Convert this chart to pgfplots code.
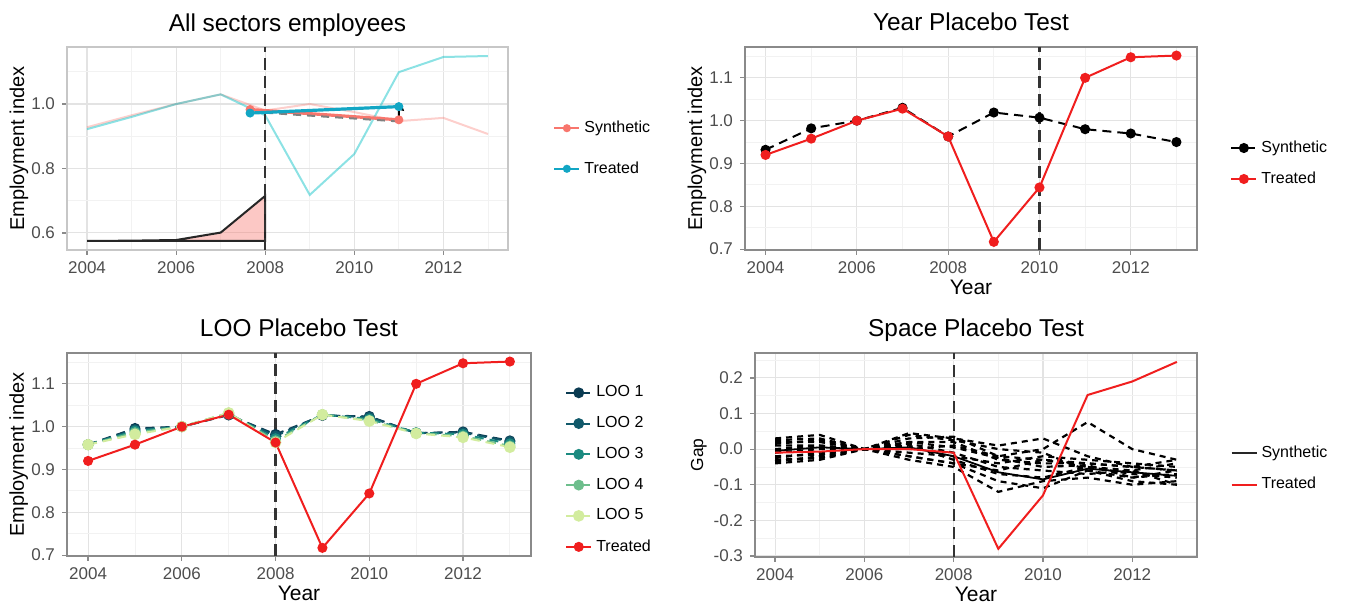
\documentclass[border=0pt]{standalone}
\usepackage{fontspec}
\setmainfont{Liberation Sans}
\usepackage{pgfplots}
\pgfplotsset{compat=1.18}
\usetikzlibrary{arrows.meta}
\definecolor{salmon}{HTML}{F8766D}
\definecolor{tealL}{HTML}{00BFC4}
\definecolor{tealD}{HTML}{12A6C4}
\definecolor{redp}{HTML}{F01E1E}
\definecolor{loo1}{HTML}{0B3B52}
\definecolor{loo2}{HTML}{11596A}
\definecolor{loo3}{HTML}{1B8A80}
\definecolor{loo4}{HTML}{6DBE8C}
\definecolor{loo5}{HTML}{D2EC9E}
\definecolor{tickgray}{HTML}{4D4D4D}
\definecolor{framegray}{HTML}{8A8A8A}
\pgfplotsset{
  ggp/.style={
    scale only axis,
    axis line style={framegray, line width=0.7pt},
    tick align=outside,
    tick pos=left,
    major tick length=2.5pt,
    minor tick length=0pt,
    every tick/.style={framegray, line width=0.6pt},
    grid=both,
    major grid style={color=black!11, line width=0.55pt},
    minor grid style={color=black!5, line width=0.4pt},
    tick label style={font=\fontsize{8.5}{10}\selectfont, text=tickgray},
    /pgf/number format/assume math mode=true,
    every axis title/.style={font=\fontsize{12.2}{14}\selectfont, at={(0.5,1)}, anchor=base, yshift=8pt},
    xlabel style={font=\fontsize{10.5}{12}\selectfont, at={(0.5,0)}, anchor=base, yshift=-22.5pt},
    ylabel style={font=\fontsize{10}{12}\selectfont, rotate=0},
    legend style={draw=none, fill=none, font=\fontsize{8}{9.6}\selectfont, anchor=west, inner sep=0pt, cells={anchor=west}},
    legend image code/.code={\draw[mark repeat=2,mark phase=2,#1] plot coordinates {(0cm,0cm) (0.22cm,0cm) (0.44cm,0cm)};},
    xmin=2003.55, xmax=2013.45,
    xtick={2004,2006,...,2012}, minor xtick={2005,2007,...,2013},
    x tick label style={/pgf/number format/set thousands separator={}},
    y tick label style={/pgf/number format/fixed, /pgf/number format/fixed zerofill, /pgf/number format/precision=1},
  },
  vline/.style={black!80, line width=1.1pt, dash pattern=on 6pt off 3pt, forget plot},
}
\begin{document}
\begin{tikzpicture}
\useasboundingbox (0,0) rectangle (674.5pt,302.5pt);

% ---------------- Panel 1 ----------------
\begin{axis}[ggp, at={(33.5pt,177.5pt)}, anchor=south west, width=220.5pt, height=101.5pt,
  axis line style={black!22, line width=0.7pt},
  ymin=0.547, ymax=1.177,
  ytick={0.6,0.8,1.0}, minor ytick={0.7,0.9,1.1},
  title={All sectors employees},
  ylabel={Employment index},
  every axis y label/.style={at={(axis description cs:-0.0975,0.5)}, rotate=90, anchor=base},
  legend style={at={(axis description cs:1.102,0.5)}, row sep=9pt}]
\addplot[salmon, opacity=0.35, line width=1pt, forget plot] coordinates {
(2004,0.928)(2005,0.965)(2006,1.0)(2007,1.03)(2008,0.98)(2009,1.0)(2010,0.975)(2011,0.947)(2012,0.957)(2013,0.907)};
\addplot[tealL, opacity=0.45, line width=1pt, forget plot] coordinates {
(2004,0.922)(2005,0.96)(2006,1.0)(2007,1.03)(2008,0.965)(2009,0.718)(2010,0.845)(2011,1.099)(2012,1.146)(2013,1.149)};
\addplot[draw=black!85, line width=1pt, fill=salmon, fill opacity=0.4, forget plot] coordinates {
(2004,0.575)(2005,0.576)(2006,0.578)(2007,0.601)(2008,0.715)(2008,0.575)(2004,0.575)} -- cycle;
\addplot[vline] coordinates {(2008,0.547)(2008,1.177)};
\addplot[salmon, line width=1.6pt, mark=*, mark size=1.4pt, forget plot] coordinates {(2007.66,0.983)(2011,0.951)};
\addplot[gray, line width=1pt, dash pattern=on 4pt off 3pt, forget plot] coordinates {(2008,0.973)(2011,0.946)};
\addplot[tealD, line width=1.6pt, mark=*, mark size=1.4pt, forget plot] coordinates {(2007.66,0.972)(2011,0.992)};
\addplot[black, line width=1pt, -{Stealth[length=3.5pt,width=3.5pt]}, forget plot] coordinates {(2011,0.948)(2011,0.993)(2011.12,0.978)};
\addlegendimage{salmon, line width=1pt, mark=*, mark size=1.5pt}
\addlegendentry{Synthetic}
\addlegendimage{tealD, line width=1pt, mark=*, mark size=1.5pt}
\addlegendentry{Treated}
\end{axis}

% ---------------- Panel 2 ----------------
\begin{axis}[ggp, at={(372.5pt,177.5pt)}, anchor=south west, width=226pt, height=101.5pt,
  ymin=0.698, ymax=1.172,
  ytick={0.7,0.8,...,1.15}, minor ytick={0.75,0.85,...,1.2},
  title={Year Placebo Test},
  xlabel={Year}, ylabel={Employment index},
  every axis y label/.style={at={(axis description cs:-0.0951,0.5)}, rotate=90, anchor=base},
  legend style={at={(axis description cs:1.073,0.426)}, row sep=4.2pt}]
\addplot[vline] coordinates {(2010,0.698)(2010,1.172)};
\addplot[black, line width=1pt, dash pattern=on 4.5pt off 3pt, mark=*, mark size=2pt, mark options={solid}] coordinates {
(2004,0.932)(2005,0.982)(2006,1.0)(2007,1.03)(2008,0.963)(2009,1.019)(2010,1.007)(2011,0.98)(2012,0.97)(2013,0.95)};
\addlegendentry{Synthetic}
\addplot[redp, line width=1pt, mark=*, mark size=2pt] coordinates {
(2004,0.92)(2005,0.958)(2006,1.0)(2007,1.028)(2008,0.963)(2009,0.717)(2010,0.844)(2011,1.10)(2012,1.148)(2013,1.152)};
\addlegendentry{Treated}
\end{axis}

% ---------------- Panel 3 ----------------
\begin{axis}[ggp, at={(33.5pt,24.5pt)}, anchor=south west, width=232pt, height=101.5pt,
  ymin=0.698, ymax=1.172,
  ytick={0.7,0.8,...,1.15}, minor ytick={0.75,0.85,...,1.2},
  title={LOO Placebo Test},
  xlabel={Year}, ylabel={Employment index},
  every axis y label/.style={at={(axis description cs:-0.0927,0.5)}, rotate=90, anchor=base},
  legend style={at={(axis description cs:1.073,0.424)}, row sep=4.3pt}]
\addplot[vline] coordinates {(2008,0.698)(2008,1.172)};
\addplot[loo1, line width=1pt, dash pattern=on 4.5pt off 3pt, mark=*, mark size=2.2pt, mark options={solid}] coordinates {
(2004,0.958)(2005,0.996)(2006,1.0)(2007,1.027)(2008,0.982)(2009,1.026)(2010,1.024)(2011,0.985)(2012,0.988)(2013,0.967)};
\addlegendentry{LOO 1}
\addplot[loo2, line width=1pt, dash pattern=on 4.5pt off 3pt, mark=*, mark size=2.2pt, mark options={solid}] coordinates {
(2004,0.958)(2005,0.993)(2006,1.0)(2007,1.028)(2008,0.978)(2009,1.027)(2010,1.022)(2011,0.985)(2012,0.986)(2013,0.965)};
\addlegendentry{LOO 2}
\addplot[loo3, line width=1pt, dash pattern=on 4.5pt off 3pt, mark=*, mark size=2.2pt, mark options={solid}] coordinates {
(2004,0.958)(2005,0.99)(2006,1.0)(2007,1.03)(2008,0.972)(2009,1.028)(2010,1.018)(2011,0.986)(2012,0.982)(2013,0.96)};
\addlegendentry{LOO 3}
\addplot[loo4, line width=1pt, dash pattern=on 4.5pt off 3pt, mark=*, mark size=2.2pt, mark options={solid}] coordinates {
(2004,0.958)(2005,0.986)(2006,1.0)(2007,1.032)(2008,0.967)(2009,1.028)(2010,1.015)(2011,0.985)(2012,0.978)(2013,0.955)};
\addlegendentry{LOO 4}
\addplot[loo5, line width=1pt, dash pattern=on 4.5pt off 3pt, mark=*, mark size=2.4pt, mark options={solid}] coordinates {
(2004,0.958)(2005,0.982)(2006,1.0)(2007,1.032)(2008,0.963)(2009,1.028)(2010,1.013)(2011,0.984)(2012,0.975)(2013,0.952)};
\addlegendentry{LOO 5}
\addplot[redp, line width=1pt, mark=*, mark size=2pt] coordinates {
(2004,0.92)(2005,0.958)(2006,1.0)(2007,1.028)(2008,0.963)(2009,0.717)(2010,0.844)(2011,1.10)(2012,1.148)(2013,1.152)};
\addlegendentry{Treated}
\end{axis}

% ---------------- Panel 4 ----------------
\begin{axis}[ggp, at={(377.5pt,24pt)}, anchor=south west, width=221pt, height=102pt,
  ymin=-0.303, ymax=0.27,
  ytick={-0.3,-0.2,...,0.25}, minor ytick={-0.25,-0.15,...,0.3},
  title={Space Placebo Test},
  xlabel={Year}, ylabel={Gap},
  every axis y label/.style={at={(axis description cs:-0.1176,0.5)}, rotate=90, anchor=base, font=\fontsize{8.7}{10}\selectfont},
  legend style={at={(axis description cs:1.075,0.431)}, row sep=4.3pt},
  pl/.style={black, line width=1.1pt, dash pattern=on 3pt off 2.5pt, forget plot}]
\addplot[vline] coordinates {(2008,-0.303)(2008,0.27)};
\addplot[pl] coordinates {(2004,0.03)(2005,0.04)(2006,0)(2007,0.045)(2008,0.03)(2009,0.01)(2010,0.03)(2011,-0.02)(2012,-0.05)(2013,-0.06)};
\addplot[pl] coordinates {(2004,0.02)(2005,0.02)(2006,0)(2007,0.03)(2008,0.035)(2009,-0.02)(2010,0.0)(2011,0.076)(2012,0.0)(2013,-0.03)};
\addplot[pl] coordinates {(2004,-0.04)(2005,-0.03)(2006,0)(2007,-0.03)(2008,-0.05)(2009,-0.12)(2010,-0.09)(2011,-0.08)(2012,-0.1)(2013,-0.09)};
\addplot[pl] coordinates {(2004,-0.03)(2005,-0.025)(2006,0)(2007,-0.02)(2008,-0.04)(2009,-0.09)(2010,-0.11)(2011,-0.06)(2012,-0.09)(2013,-0.1)};
\addplot[pl] coordinates {(2004,0.01)(2005,0.01)(2006,0)(2007,0.02)(2008,0.02)(2009,-0.03)(2010,-0.04)(2011,-0.04)(2012,-0.05)(2013,-0.06)};
\addplot[pl] coordinates {(2004,-0.01)(2005,0.0)(2006,0)(2007,0.01)(2008,-0.03)(2009,-0.07)(2010,-0.08)(2011,-0.05)(2012,-0.07)(2013,-0.08)};
\addplot[pl] coordinates {(2004,0.025)(2005,0.03)(2006,0)(2007,0.0)(2008,0.01)(2009,-0.02)(2010,-0.03)(2011,-0.05)(2012,-0.06)(2013,-0.04)};
\addplot[pl] coordinates {(2004,-0.02)(2005,-0.015)(2006,0)(2007,-0.01)(2008,-0.02)(2009,-0.04)(2010,-0.02)(2011,-0.03)(2012,-0.04)(2013,-0.05)};
\addplot[pl] coordinates {(2004,0.0)(2005,0.01)(2006,0)(2007,0.04)(2008,0.025)(2009,0.0)(2010,-0.01)(2011,-0.06)(2012,-0.08)(2013,-0.07)};
\addplot[pl] coordinates {(2004,-0.035)(2005,-0.02)(2006,0)(2007,0.015)(2008,-0.01)(2009,-0.05)(2010,-0.06)(2011,-0.07)(2012,-0.06)(2013,-0.1)};
\addplot[pl] coordinates {(2004,0.015)(2005,0.025)(2006,0)(2007,-0.02)(2008,-0.04)(2009,-0.06)(2010,-0.03)(2011,-0.04)(2012,-0.05)(2013,-0.03)};
\addplot[pl] coordinates {(2004,-0.025)(2005,-0.01)(2006,0)(2007,0.02)(2008,0.005)(2009,-0.025)(2010,-0.05)(2011,-0.045)(2012,-0.08)(2013,-0.06)};
\addplot[black, line width=0.9pt, forget plot] coordinates {(2004,-0.005)(2005,0.005)(2006,0)(2007,0.005)(2008,-0.02)(2009,-0.065)(2010,-0.085)(2011,-0.055)(2012,-0.065)(2013,-0.075)};
\addplot[redp, line width=1pt, forget plot] coordinates {(2004,-0.01)(2005,-0.007)(2006,0.0)(2007,0.0)(2008,-0.01)(2009,-0.28)(2010,-0.13)(2011,0.152)(2012,0.19)(2013,0.245)};
\addlegendimage{black!85, line width=1pt}
\addlegendentry{Synthetic}
\addlegendimage{redp, line width=1pt}
\addlegendentry{Treated}
\end{axis}
\end{tikzpicture}
\end{document}
